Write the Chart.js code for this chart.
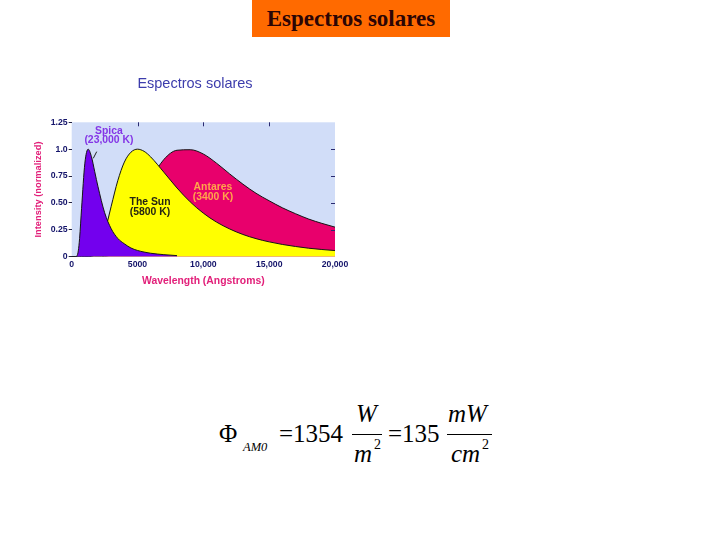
<!DOCTYPE html>
<html>
<head>
<meta charset="utf-8">
<script src="https://cdn.jsdelivr.net/npm/chart.js@4/dist/chart.umd.min.js"></script>
<style>
  html, body { margin: 0; padding: 0; background: #ffffff; width: 720px; height: 540px; overflow: hidden; }
  #page { position: relative; width: 720px; height: 540px; }
  #slideTitle { position: absolute; left: 252px; top: 0px; width: 198px; height: 37px; background: #ff6a00;
    font-family: "Liberation Serif", serif; font-weight: bold; font-size: 23px; color: #2b0505;
    text-align: center; line-height: 38px; }
  #chartWrap { position: absolute; left: 0px; top: 60px; width: 360px; height: 240px; }
  .fx { position: absolute; font-family: "Liberation Serif", serif; color: #000; line-height: 1; white-space: nowrap; }
  .it { font-style: italic; }
  .bar { position: absolute; height: 1px; background: #000; }
</style>
</head>
<body>
<div id="page">
  <div id="slideTitle">Espectros solares</div>
  <div id="chartWrap"><canvas id="c" width="360" height="240"></canvas></div>

  <div class="fx" style="left:219px; top:421px; font-size:25px;">Φ</div>
  <div class="fx it" style="left:243px; top:441px; font-size:12.5px;">AM0</div>
  <div class="fx" style="left:279px; top:421px; font-size:25px;">=1354</div>
  <div class="fx it" style="left:356px; top:401px; font-size:25px;">W</div>
  <div class="bar" style="left:352px; top:434px; width:30px;"></div>
  <div class="fx it" style="left:354px; top:441px; font-size:25px;">m</div>
  <div class="fx" style="left:374px; top:438px; font-size:14px;">2</div>
  <div class="fx" style="left:388px; top:421px; font-size:25px;">=135</div>
  <div class="fx it" style="left:448px; top:401px; font-size:25px;">mW</div>
  <div class="bar" style="left:447px; top:434px; width:45px;"></div>
  <div class="fx it" style="left:451px; top:441px; font-size:25px;">cm</div>
  <div class="fx" style="left:482px; top:438px; font-size:14px;">2</div>
</div>

<script>
// ---------------- data ----------------
const wavelengths = [0, 250, 400, 500, 600, 750, 1000, 1250, 1500, 1750, 2000, 2500, 3000, 3500, 4000, 4500,
  5000, 5500, 6000, 7000, 8000, 9000, 10000, 11000, 12000, 13000, 14000, 15000, 16000, 17000, 18000, 19000, 20000];

const spica = [0, 0, 0.007, 0.054, 0.17, 0.45, 0.87, 1.0, 0.93, 0.79, 0.65, 0.41, 0.26, 0.17, 0.12, 0.081,
  0.058, 0.043, 0.032, 0.019, 0.01, null, null, null, null, null, null, null, null, null, null, null, null];

const sun = [0, 0, 0, 0, 0, 0, 0, 0.0002, 0.004, 0.019, 0.057, 0.224, 0.469, 0.707, 0.88, 0.972,
  1.0, 0.98, 0.928, 0.786, 0.639, 0.51, 0.405, 0.322, 0.258, 0.207, 0.168, 0.138, 0.114, 0.095, 0.079, 0.067, 0.057];

const antares = [0, 0, 0, 0, 0, 0, 0, 0, 0, 0, 0, 0.003, 0.02, 0.068, 0.159, 0.286,
  0.432, 0.579, 0.712, 0.904, 0.99, 0.995, 0.955, 0.87, 0.77, 0.675, 0.59, 0.52, 0.455, 0.40, 0.35, 0.31, 0.275];

const seriesNames = ["Spica (23,000 K)", "The Sun (5800 K)", "Antares (3400 K)"];
const xTickLabels = ["0", "5000", "10,000", "15,000", "20,000"];
const yTickLabels = ["0", "0.25", "0.50", "0.75", "1.0", "1.25"];

// text labels inside the plot: [line1, line2, x (Å), y line1, y line2]
const curveLabels = [
  ["Spica", "(23,000 K)", 2830, 1.172, 1.085],
  ["The Sun", "(5800 K)", 5950, 0.512, 0.419],
  ["Antares", "(3400 K)", 10730, 0.645, 0.558]
];
const spicaPointer = [[1640, 0.915], [1900, 0.977]];

// ---------------- chart ----------------
function pts(arr) {
  return wavelengths.map((x, i) => ({ x: x, y: arr[i] })).filter(p => p.y !== null);
}

const labelColors = ["#8436e6", "#262612", "#ffa54a"];

const plotBg = {
  id: 'plotBg',
  beforeDraw(chart) {
    const a = chart.chartArea, ctx = chart.ctx;
    ctx.save();
    ctx.fillStyle = '#d1ddf8';
    ctx.fillRect(a.left, a.top, a.right - a.left, a.bottom - a.top);
    ctx.restore();
  },
  afterLayout(chart) {
    // centre the chart title where it sits in the reference
    const t = chart.titleBlock;
    if (t) { t.left = 95; t.right = 295; }
  }
};

const extras = {
  id: 'extras',
  afterDatasetsDraw(chart) {
    const ctx = chart.ctx, xs = chart.scales.x, ys = chart.scales.y, a = chart.chartArea;
    ctx.save();
    // inner ticks on top and right edges
    ctx.strokeStyle = '#2a2a70';
    ctx.lineWidth = 1;
    [5000, 10000, 15000].forEach(v => {
      const px = Math.round(xs.getPixelForValue(v)) + 0.5;
      ctx.beginPath(); ctx.moveTo(px, a.top); ctx.lineTo(px, a.top + 4); ctx.stroke();
    });
    [0.25, 0.5, 0.75, 1.0].forEach(v => {
      const py = Math.round(ys.getPixelForValue(v)) + 0.5;
      ctx.beginPath(); ctx.moveTo(a.right, py); ctx.lineTo(a.right - 4, py); ctx.stroke();
    });
    // pointer for Spica
    ctx.strokeStyle = '#222';
    ctx.beginPath();
    ctx.moveTo(xs.getPixelForValue(spicaPointer[0][0]), ys.getPixelForValue(spicaPointer[0][1]));
    ctx.lineTo(xs.getPixelForValue(spicaPointer[1][0]), ys.getPixelForValue(spicaPointer[1][1]));
    ctx.stroke();
    // curve labels
    ctx.font = 'bold 10.4px "Liberation Sans", Arial, sans-serif';
    ctx.textAlign = 'center';
    ctx.textBaseline = 'middle';
    curveLabels.forEach((l, i) => {
      ctx.fillStyle = labelColors[i];
      const px = xs.getPixelForValue(l[2]);
      ctx.fillText(l[0], px, ys.getPixelForValue(l[3]));
      ctx.fillText(l[1], px, ys.getPixelForValue(l[4]));
    });
    ctx.restore();
  }
};

const lineColor = '#151515';
const ds = (label, data, color) => ({
  label: label,
  data: pts(data),
  backgroundColor: color,
  borderColor: lineColor,
  borderWidth: 1,
  fill: 'origin',
  pointRadius: 0,
  cubicInterpolationMode: 'monotone'
});

new Chart(document.getElementById('c'), {
  type: 'line',
  data: {
    datasets: [
      ds(seriesNames[0], spica, '#7300ee'),
      ds(seriesNames[1], sun, '#ffff00'),
      ds(seriesNames[2], antares, '#e8006c')
    ]
  },
  options: {
    responsive: false,
    animation: false,
    layout: { padding: { left: 30, right: 25, top: 0, bottom: 0 } },
    plugins: {
      legend: { display: false },
      tooltip: { enabled: false },
      title: {
        display: true,
        text: 'Espectros solares',
        color: '#3c3cac',
        font: { family: '"Liberation Sans", Arial, sans-serif', size: 14.5, weight: 'normal' },
        padding: { top: 15.3, bottom: 29.6 }
      }
    },
    scales: {
      x: {
        type: 'linear',
        min: 0, max: 20000,
        afterFit(s) { s.height = 43.3; },
        border: { display: false },
        grid: { drawOnChartArea: false, drawTicks: false },
        ticks: {
          stepSize: 5000,
          padding: 3,
          maxRotation: 0,
          color: '#14146a',
          font: { family: '"Liberation Sans", Arial, sans-serif', size: 8.7, weight: 'bold' },
          callback: (v) => xTickLabels[Math.round(v / 5000)]
        },
        title: {
          display: true,
          text: 'Wavelength (Angstroms)',
          color: '#e2207a',
          font: { family: '"Liberation Sans", Arial, sans-serif', size: 10.4, weight: 'bold' },
          padding: { top: 0, bottom: 13.06 }
        }
      },
      y: {
        min: 0, max: 1.25,
        afterFit(s) { s.width = 41.7; },
        border: { display: false },
        grid: { drawOnChartArea: false, drawTicks: true, tickLength: 3, color: '#222244' },
        ticks: {
          stepSize: 0.25,
          padding: 1,
          color: '#14146a',
          font: { family: '"Liberation Sans", Arial, sans-serif', size: 8.7, weight: 'bold' },
          callback: (v) => yTickLabels[Math.round(v / 0.25)]
        },
        title: {
          display: true,
          text: 'Intensity (normalized)',
          color: '#e2207a',
          font: { family: '"Liberation Sans", Arial, sans-serif', size: 9.3, weight: 'bold' },
          padding: { top: 2.4, bottom: 0 }
        }
      }
    }
  },
  plugins: [plotBg, extras]
});
</script>
</body>
</html>
